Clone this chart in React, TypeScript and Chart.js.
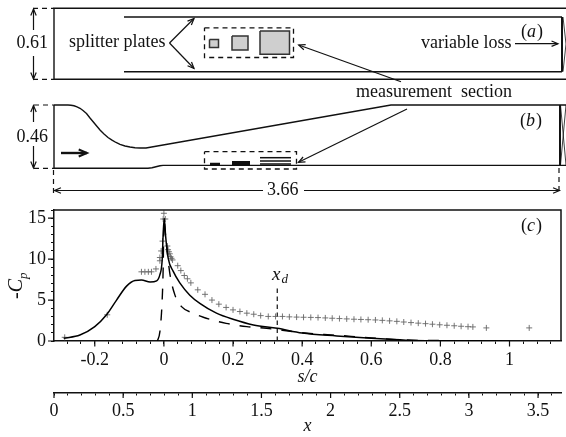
import React, { useEffect, useRef } from "react";
import { Chart, registerables } from "chart.js";

Chart.register(...registerables);

const SERIF = '"Liberation Serif", "Times New Roman", serif';

// ---- panel (c) data: s/c against -Cp
const solidS = [-0.29, -0.243, -0.2, -0.166, -0.137, -0.108, -0.084, -0.065, -0.04, -0.021, -0.0116, -0.005, -0.002, 0.001, 0.005, 0.0125, 0.027, 0.046, 0.075, 0.104, 0.152, 0.2, 0.259, 0.328, 0.4, 0.5, 0.6, 0.7, 0.8, 1.0];
const solidCp = [0.33, 0.73, 1.75, 3.2, 5.0, 6.7, 7.4, 7.45, 7.2, 7.35, 8.1, 9.9, 13.2, 15, 12.8, 10.1, 8.5, 7.1, 5.6, 4.6, 3.4, 2.65, 1.96, 1.55, 0.98, 0.62, 0.33, 0.1, 0.03, 0];
const dashedS = [-0.019, -0.0116, -0.005, -0.002, 0, 0.005, 0.017, 0.032, 0.051, 0.085, 0.114, 0.18, 0.24, 0.297, 0.36, 0.4, 0.5, 0.6, 0.7, 0.8, 0.9, 1.0];
const dashedCp = [0, 1.14, 5, 9.1, 14.8, 12.8, 8.3, 5.6, 4.2, 3.4, 2.9, 2.16, 1.75, 1.55, 1.22, 1.0, 0.7, 0.38, 0.12, 0.05, 0.02, 0];
const crossS = [-0.287, -0.164, -0.065, -0.055, -0.045, -0.036, -0.023, -0.0116, -0.0116, -0.008, -0.004, -0.002, 0.004, 0, 0.01, 0.012, 0.0145, 0.017, 0.019, 0.022, 0.025, 0.04, 0.049, 0.059, 0.068, 0.078, 0.098, 0.119, 0.139, 0.159, 0.18, 0.2, 0.22, 0.24, 0.26, 0.28, 0.302, 0.323, 0.343, 0.363, 0.384, 0.404, 0.425, 0.446, 0.467, 0.487, 0.508, 0.529, 0.55, 0.57, 0.591, 0.612, 0.632, 0.653, 0.674, 0.694, 0.715, 0.736, 0.757, 0.777, 0.798, 0.819, 0.84, 0.86, 0.88, 0.894, 0.933, 1.057];
const crossCp = [0.45, 3.2, 8.45, 8.45, 8.45, 8.45, 8.8, 9.8, 10.2, 11, 12.2, 14.9, 14.9, 15.6, 11.6, 11.15, 10.9, 10.65, 10.3, 10.1, 9.9, 9.2, 8.6, 8.0, 7.6, 7.1, 6.25, 5.7, 5.0, 4.5, 4.1, 3.8, 3.6, 3.4, 3.27, 3.1, 3.0, 3.0, 3.0, 2.95, 2.92, 2.9, 2.88, 2.86, 2.82, 2.78, 2.74, 2.7, 2.66, 2.63, 2.6, 2.57, 2.52, 2.46, 2.4, 2.32, 2.25, 2.18, 2.12, 2.05, 1.98, 1.92, 1.86, 1.8, 1.75, 1.72, 1.6, 1.6];
const xdMarkerS = [0.328, 0.328];
const xdMarkerCp = [0, 6.65];

const sMajorTicks = [-0.2, 0, 0.2, 0.4, 0.6, 0.8, 1];
const sMinorTicks = [-0.28, -0.24, -0.16, -0.12, -0.08, -0.04, 0.04, 0.08, 0.12, 0.16, 0.24, 0.28, 0.32, 0.36, 0.44, 0.48, 0.52, 0.56, 0.64, 0.68, 0.72, 0.76, 0.84, 0.88, 0.92, 0.96, 1.04, 1.08, 1.12];
const xMajorTicks = [0, 0.5, 1, 1.5, 2, 2.5, 3, 3.5];
const xMinorTicks = [0.1, 0.2, 0.3, 0.4, 0.6, 0.7, 0.8, 0.9, 1.1, 1.2, 1.3, 1.4, 1.6, 1.7, 1.8, 1.9, 2.1, 2.2, 2.3, 2.4, 2.6, 2.7, 2.8, 2.9, 3.1, 3.2, 3.3, 3.4, 3.6];
const yMajorTicks = [0, 5, 10, 15];
const yMinorTicks = [1, 2, 3, 4, 6, 7, 8, 9, 11, 12, 13, 14, 16];

// ---- schematic panels (a) and (b), in sketch units
type P = [number, number];
const panelAOutline: P[][] = [[[566, 8.3], [54, 8.3], [54, 79.3], [566, 79.3]]];
const splitterPlatesA: P[][] = [[[124, 17], [562, 17]], [[124, 71.7], [562, 71.7]]];
const lossA: P[] = [[562, 17], [562, 71.7]];
const lossThinA: P[][] = [[[563, 17], [566, 44], [563, 71.7]]];
const rectsA: P[][] = [
  [[209.5, 39.5], [218.5, 39.5], [218.5, 47.5], [209.5, 47.5], [209.5, 39.5]],
  [[232, 36], [248, 36], [248, 50], [232, 50], [232, 36]],
  [[260, 31], [289.5, 31], [289.5, 54.3], [260, 54.3], [260, 31]],
];
const dashedBoxA: P[] = [[204.5, 27.8], [293.5, 27.8], [293.5, 57.5], [204.5, 57.5], [204.5, 27.8]];
const dashedBoxB: P[] = [[204.5, 151.7], [296.5, 151.7], [296.5, 169], [204.5, 169], [204.5, 151.7]];
const upperWallB: P[] = [[54, 105], [68, 105], [71, 105.2], [74, 105.8], [77, 106.8], [80, 108.3], [83, 110.5], [86.5, 113.5], [90, 118], [95, 124], [100, 130], [104, 134], [108, 137.5], [112, 140.2], [116, 142.5], [120, 144.3], [125, 146], [130, 147], [135, 147.7], [140, 148], [146, 148], [391, 105], [566, 105]];
const lowerWallB: P[] = [[54, 168.3], [148, 168.3], [152, 167.8], [156, 166.8], [160, 165.8], [163, 165.4], [566, 165.4]];
const leftWallB: P[] = [[54, 105], [54, 168.3]];
const lossB: P[] = [[560, 105], [560, 165.4]];
const lossThinB: P[][] = [[[560.5, 105], [566, 165]], [[566, 105], [560.5, 165]]];
const platesBThin: P[][] = [[[260, 157.7], [291, 157.7]], [[260, 161], [291, 161]], [[260, 164], [291, 164]]];
const plateBSmall: P[] = [[210, 164], [220, 164]];
const plateBMedium: P[] = [[232, 163], [250, 163]];
const dimDashes: P[][] = [
  [[33, 8.3], [54, 8.3]], [[33, 79.3], [54, 79.3]],
  [[34, 105], [54, 105]], [[34, 168.3], [54, 168.3]],
  [[53.5, 170], [53.5, 195]], [[559, 168], [559, 191]],
];
const arrowsFromTo: [P, P][] = [
  [[33.5, 30], [33.5, 9]], [[33.5, 56], [33.5, 79]],
  [[33.5, 122], [33.5, 105.5]], [[33.5, 146], [33.5, 168]],
  [[263, 190.5], [54.5, 190.5]], [[304, 190.5], [559.5, 190.5]],
  [[169.5, 43], [194, 18.5]], [[169.5, 43], [194, 68.5]],
  [[515, 43.7], [558, 43.7]],
  [[401, 81.7], [298.7, 45]], [[407, 109], [298.5, 162.3]],
];
const flowArrow: [P, P] = [[61, 153], [87, 153]];

type Run = { t: string; i?: boolean; size?: number; dy?: number };
type Label = { runs: Run[]; x: number; y: number };
const sketchLabels: Label[] = [
  { runs: [{ t: "0.61" }], x: 16.5, y: 43 },
  { runs: [{ t: "0.46" }], x: 16.5, y: 137 },
  { runs: [{ t: "splitter plates" }], x: 69, y: 42.5 },
  { runs: [{ t: "variable loss" }], x: 421, y: 43 },
  { runs: [{ t: "measurement  section" }], x: 356, y: 92.5 },
  { runs: [{ t: "3.66" }], x: 267, y: 190.5 },
  { runs: [{ t: "(" }, { t: "a", i: true }, { t: ")" }], x: 521, y: 32 },
  { runs: [{ t: "(" }, { t: "b", i: true }, { t: ")" }], x: 520, y: 121 },
];
const panelLabels: Label[] = [
  { runs: [{ t: "(" }, { t: "c", i: true }, { t: ")" }], x: 521, y: 21 },
  { runs: [{ t: "x", i: true, size: 19 }, { t: "d", i: true, size: 13, dy: 5 }], x: 272, y: 70 },
];

function drawRuns(ctx: CanvasRenderingContext2D, l: Label) {
  ctx.save();
  ctx.textBaseline = "middle";
  ctx.textAlign = "left";
  ctx.fillStyle = "#111";
  let x = l.x;
  for (const r of l.runs) {
    ctx.font = `${r.i ? "italic " : ""}${r.size ?? 18}px ${SERIF}`;
    ctx.fillText(r.t, x, l.y + (r.dy ?? 0));
    x += ctx.measureText(r.t).width + (r.i ? 1 : 0);
  }
  ctx.restore();
}

function head(from: P, to: P, len = 7, spread = 0.4): P[] {
  const a = Math.atan2(from[1] - to[1], from[0] - to[0]);
  return [
    [to[0] + len * Math.cos(a + spread), to[1] + len * Math.sin(a + spread)],
    to,
    [to[0] + len * Math.cos(a - spread), to[1] + len * Math.sin(a - spread)],
  ];
}

function seg(pts: P[], width = 1.3, extra: any = {}) {
  return {
    data: pts.map(([x, y]) => ({ x, y })),
    borderColor: "#111",
    backgroundColor: "#cfcfcf",
    borderWidth: width,
    pointRadius: 0,
    tension: 0,
    fill: false,
    ...extra,
  };
}

function sketchDatasets() {
  const dash = { borderDash: [5, 4] };
  const ds: any[] = [];
  panelAOutline.forEach((p) => ds.push(seg(p, 1.4)));
  splitterPlatesA.forEach((p) => ds.push(seg(p, 1.4)));
  ds.push(seg(lossA, 2));
  lossThinA.forEach((p) => ds.push(seg(p, 0.8)));
  rectsA.forEach((p) => ds.push(seg(p, 1.5, { fill: "shape", borderColor: "#333" })));
  ds.push(seg(dashedBoxA, 1.3, dash), seg(dashedBoxB, 1.3, dash));
  ds.push(seg(upperWallB, 1.4));
  ds.push(seg(lowerWallB, 1.4), seg(leftWallB, 1.4), seg(lossB, 2));
  lossThinB.forEach((p) => ds.push(seg(p, 0.8)));
  platesBThin.forEach((p) => ds.push(seg(p, 1.5)));
  ds.push(seg(plateBSmall, 2.5), seg(plateBMedium, 4));
  dimDashes.forEach((p) => ds.push(seg(p, 1.2, dash)));
  arrowsFromTo.forEach(([a, b]) => {
    ds.push(seg([a, b], 1.2));
    ds.push(seg(head(a, b), 1.2));
  });
  ds.push(seg(flowArrow, 2.4));
  ds.push(seg(head(flowArrow[0], flowArrow[1], 9, 0.4), 2));
  return ds;
}

function zip(a: number[], b: number[]) {
  return a.map((x, i) => ({ x, y: b[i] }));
}

const MAJOR: Record<string, number[]> = { x: sMajorTicks, x2: xMajorTicks, y: yMajorTicks };
const MINOR: Record<string, number[]> = { x: sMinorTicks, x2: xMinorTicks, y: yMinorTicks };

function scaleTicks(id: string) {
  return (scale: any) => {
    scale.ticks = [...MAJOR[id], ...MINOR[id]]
      .sort((a, b) => a - b)
      .map((value) => ({ value }));
  };
}
function tickLabel(id: string) {
  return (v: any) => (MAJOR[id].includes(v) ? String(v) : "");
}
function noPad(s: any) {
  s.paddingTop = 0;
  s.paddingBottom = 0;
  s.paddingLeft = 0;
  s.paddingRight = 0;
}

const baseAxisFont = { family: SERIF, size: 18 };

const majorTickPlugin = {
  id: "majorTicks",
  afterDraw(chart: any) {
    const ctx = chart.ctx;
    const a = chart.chartArea;
    ctx.save();
    ctx.strokeStyle = "#111";
    ctx.lineWidth = 1.2;
    ctx.beginPath();
    for (const v of yMajorTicks) {
      const y = chart.scales.y.getPixelForValue(v);
      ctx.moveTo(a.left, y);
      ctx.lineTo(a.left - 6, y);
    }
    for (const id of ["x", "x2"]) {
      const s = chart.scales[id];
      for (const v of MAJOR[id]) {
        const x = s.getPixelForValue(v);
        ctx.moveTo(x, s.top);
        ctx.lineTo(x, s.top + 5.5);
      }
    }
    ctx.stroke();
    // frame
    ctx.lineWidth = 1.5;
    ctx.beginPath();
    ctx.moveTo(a.left, a.top);
    ctx.lineTo(a.right, a.top);
    ctx.lineTo(a.right, a.bottom);
    ctx.stroke();
    ctx.restore();
    panelLabels.forEach((l) => drawRuns(ctx, l));
    // rotated -Cp title
    ctx.save();
    ctx.translate(22, 94);
    ctx.rotate(-Math.PI / 2);
    ctx.fillStyle = "#111";
    ctx.textBaseline = "alphabetic";
    ctx.font = `20px ${SERIF}`;
    ctx.fillText("-", 0, 0);
    let w = ctx.measureText("-").width;
    ctx.font = `italic 20px ${SERIF}`;
    ctx.fillText("C", w, 0);
    w += ctx.measureText("C").width;
    ctx.font = `italic 13px ${SERIF}`;
    ctx.fillText("p", w, 5);
    ctx.restore();
  },
};

const sketchLabelPlugin = {
  id: "sketchLabels",
  afterDraw(chart: any) {
    sketchLabels.forEach((l) => drawRuns(chart.ctx, l));
  },
};

export default function App() {
  const topRef = useRef<HTMLCanvasElement>(null);
  const botRef = useRef<HTMLCanvasElement>(null);

  useEffect(() => {
    const sketch = new Chart(topRef.current!, {
      type: "line",
      data: { datasets: sketchDatasets() },
      plugins: [sketchLabelPlugin],
      options: {
        animation: false,
        responsive: false,
        layout: { padding: 0, autoPadding: false },
        plugins: { legend: { display: false }, tooltip: { enabled: false } },
        scales: {
          x: { type: "linear", min: 0, max: 566, display: false },
          y: { type: "linear", min: 0, max: 205, reverse: true, display: false },
        },
      },
    } as any);

    const axisCommon = {
      grid: { drawOnChartArea: false, drawTicks: true, tickLength: 3, color: "#111", tickWidth: 1 },
      border: { display: true, color: "#111", width: 1.5 },
    };

    const panel = new Chart(botRef.current!, {
      type: "line",
      data: {
        datasets: [
          { data: zip(solidS, solidCp), borderColor: "#000", borderWidth: 1.5, pointRadius: 0, cubicInterpolationMode: "monotone" },
          { data: zip(dashedS, dashedCp), borderColor: "#000", borderWidth: 1.4, borderDash: [11, 10], pointRadius: 0, cubicInterpolationMode: "monotone" },
          { data: zip(crossS, crossCp), showLine: false, pointStyle: "cross", pointRadius: 3, borderColor: "#666", borderWidth: 0.9, pointBorderColor: "#666", pointBorderWidth: 0.9 },
          { data: zip(xdMarkerS, xdMarkerCp), borderColor: "#111", borderWidth: 1.2, borderDash: [4.5, 3.5], pointRadius: 0 },
        ],
      },
      plugins: [majorTickPlugin],
      options: {
        animation: false,
        responsive: false,
        layout: { padding: { top: 5, right: 5, left: 0, bottom: 0 }, autoPadding: false },
        plugins: { legend: { display: false }, tooltip: { enabled: false } },
        scales: {
          x: {
            type: "linear",
            position: "bottom",
            weight: 0,
            min: -0.318,
            max: 1.149,
            ...axisCommon,
            afterBuildTicks: scaleTicks("x"),
            afterFit: (s: any) => { s.height = 51.5; noPad(s); },
            ticks: { autoSkip: false, maxRotation: 0, padding: 5, color: "#111", font: baseAxisFont, callback: tickLabel("x") },
            title: { display: true, text: "s/c", color: "#111", font: { ...baseAxisFont, style: "italic" }, padding: { top: 0, bottom: 4 } },
          },
          x2: {
            type: "linear",
            axis: "x",
            position: "bottom",
            weight: 1,
            min: 0,
            max: 3.666,
            ...axisCommon,
            afterBuildTicks: scaleTicks("x2"),
            afterFit: (s: any) => { s.height = 44.5; noPad(s); },
            ticks: { autoSkip: false, maxRotation: 0, padding: 5, color: "#111", font: baseAxisFont, callback: tickLabel("x2") },
            title: { display: true, text: "x", color: "#111", font: { ...baseAxisFont, style: "italic" }, padding: 0 },
          },
          y: {
            type: "linear",
            position: "left",
            min: 0,
            max: 16,
            ...axisCommon,
            afterBuildTicks: scaleTicks("y"),
            afterFit: (s: any) => { s.width = 54; noPad(s); },
            ticks: { autoSkip: false, padding: 5, color: "#111", font: baseAxisFont, callback: tickLabel("y") },
          },
        },
      },
    } as any);

    return () => {
      sketch.destroy();
      panel.destroy();
    };
  }, []);

  return (
    <div style={{ position: "absolute", left: 0, top: 0, width: 566, height: 437, background: "#fff" }}>
      <canvas ref={topRef} width={566} height={205} style={{ position: "absolute", left: 0, top: 0 }} />
      <canvas ref={botRef} width={566} height={232} style={{ position: "absolute", left: 0, top: 205 }} />
    </div>
  );
}
